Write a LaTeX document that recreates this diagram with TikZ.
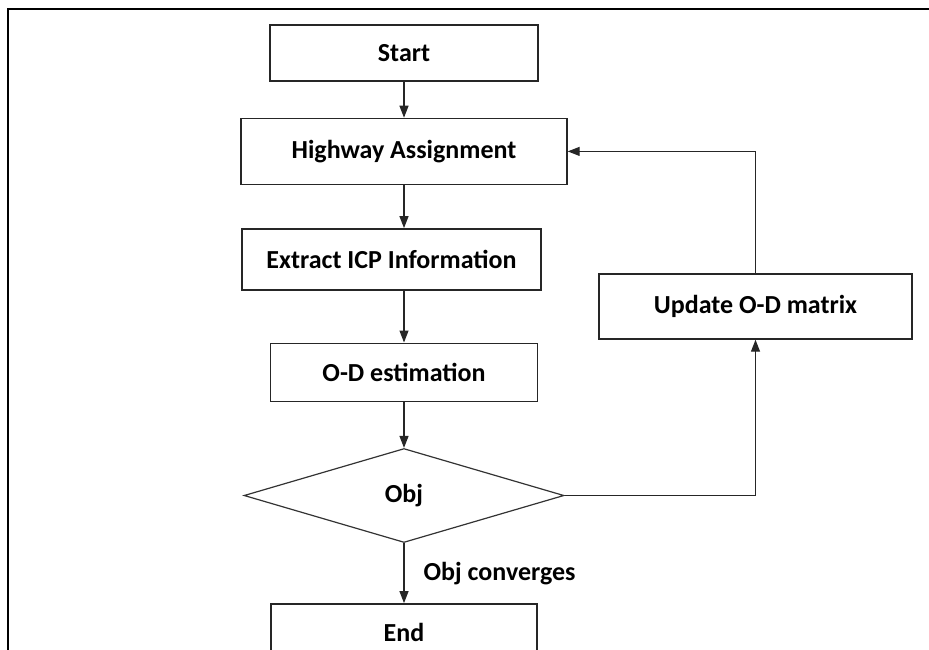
\documentclass[tikz,border=0pt]{standalone}
\usepackage{fontspec}
\setmainfont{Carlito}
\usepackage{tikz}
\usetikzlibrary{arrows.meta,positioning,shapes.geometric}

\begin{document}
\begin{tikzpicture}[auto,x=0.5pt,y=-0.5pt,>={Triangle[length=6pt,width=4.5pt]},
	font=\fontsize{13}{15}\selectfont\bfseries]
	\tikzstyle{block} = [draw=black!85, line width=0.7pt, rectangle, inner sep=2pt]
	\tikzstyle{decision} = [draw=black!80, line width=0.6pt, diamond, inner sep=0pt]
	\tikzstyle{line} = [draw=black!85, line width=0.6pt]

	\useasboundingbox (0,0) rectangle (929,649);
	% outer frame, cut at the right and bottom
	\draw [line width=1.3pt, line cap=rect] (8,670) -- (8,9) -- (950,9);

	\node [block, minimum width=134pt, minimum height=28pt] (start) at (404,53) {Start};
	\node [block, minimum width=163pt, minimum height=33pt, below = 18pt of start] (hwy) {Highway Assignment};
	\node [block, minimum width=149.5pt, minimum height=30.5pt, below right = 21.5pt and 0.5pt of hwy.south west] (icp) {Extract ICP Information};
	\node [block, minimum width=133.5pt, minimum height=29pt, below = 26pt of hwy.south |- icp.south] (odest) {O-D estimation};
	\node [decision, minimum width=160pt, minimum height=47pt, below = 23pt of odest] (obj) {Obj};
	\node [block, minimum width=133pt, minimum height=29pt, below = 30pt of obj] (fin) {End};
	\node [block, minimum width=156.5pt, minimum height=32.5pt] (upd) at (755.5,306.5) {Update O-D matrix};

	\draw [line, ->] (start) -- (hwy);
	\draw [line, ->] (hwy.south) -- (hwy.south |- icp.north);
	\draw [line, ->] (hwy.south |- icp.south) -- (odest);
	\draw [line, ->] (odest) -- (obj);
	\draw [line, ->] (obj) --node[inner xsep=9.5pt]{Obj converges} (fin);
	\draw [line, ->] (obj.east) -| (upd.south);
	\draw [line, ->] (upd.north) |- (hwy.east);

\end{tikzpicture}
\end{document}
